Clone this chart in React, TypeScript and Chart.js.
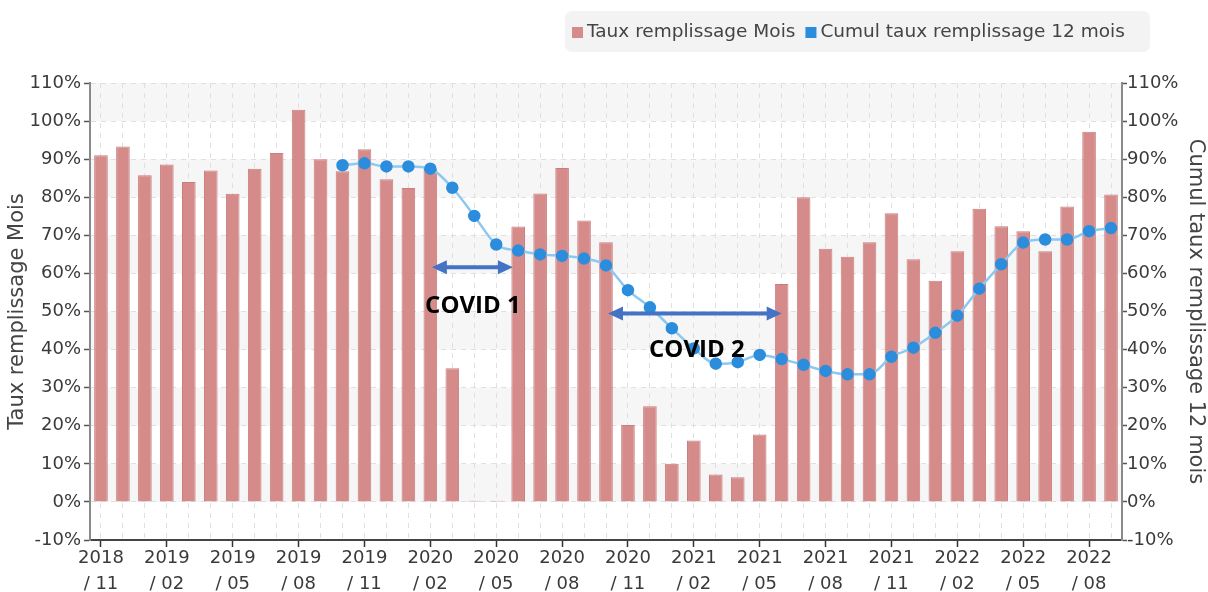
import React, { useEffect, useRef } from 'react';
import { Chart, registerables } from 'chart.js';

Chart.register(...registerables);

const MONTH_LABELS = [
  '2018 / 11', '2018 / 12',
  '2019 / 01', '2019 / 02', '2019 / 03', '2019 / 04', '2019 / 05', '2019 / 06',
  '2019 / 07', '2019 / 08', '2019 / 09', '2019 / 10', '2019 / 11', '2019 / 12',
  '2020 / 01', '2020 / 02', '2020 / 03', '2020 / 04', '2020 / 05', '2020 / 06',
  '2020 / 07', '2020 / 08', '2020 / 09', '2020 / 10', '2020 / 11', '2020 / 12',
  '2021 / 01', '2021 / 02', '2021 / 03', '2021 / 04', '2021 / 05', '2021 / 06',
  '2021 / 07', '2021 / 08', '2021 / 09', '2021 / 10', '2021 / 11', '2021 / 12',
  '2022 / 01', '2022 / 02', '2022 / 03', '2022 / 04', '2022 / 05', '2022 / 06',
  '2022 / 07', '2022 / 08', '2022 / 09',
];

// Taux remplissage Mois (%)
const MONTHLY_RATE = [
  91.0, 93.3, 85.8, 88.6, 84.0, 87.0, 80.9, 87.5, 91.6, 103.0,
  90.0, 86.8, 92.6, 84.7, 82.4, 87.4, 35.1, 0.3, 0.3, 72.3,
  81.0, 87.7, 73.9, 68.2, 20.2, 25.1, 10.0, 16.1, 7.2, 6.5,
  17.7, 57.2, 80.0, 66.5, 64.4, 68.2, 75.8, 63.7, 58.1, 65.8,
  77.0, 72.4, 71.1, 65.8, 77.6, 97.2, 80.7,
];

// Cumul taux remplissage 12 mois (%)
const CUMUL_12M = [
  null, null, null, null, null, null, null, null, null, null, null,
  88.4, 88.9, 88.1, 88.1, 87.5, 82.5, 75.1, 67.6, 66.0, 65.0,
  64.6, 63.9, 62.1, 55.6, 51.1, 45.6, 40.3, 36.3, 36.7, 38.6,
  37.5, 36.0, 34.4, 33.5, 33.5, 38.1, 40.5, 44.4, 48.9, 56.0,
  62.4, 68.1, 68.9, 68.9, 71.1, 71.9,
];

const SERIES_NAMES = ['Taux remplissage Mois', 'Cumul taux remplissage 12 mois'];
const AXIS_TICKS = { min: -10, max: 110, step: 10 };

// Annotations: [startIndex, endIndex, yValue] for arrows; [centerIndex, yValue, text] for labels
const COVID_ARROWS = [
  [15.07, 18.76, 61.6],
  [23.09, 31.0, 49.5],
];
const COVID_LABELS: [number, number, string][] = [
  [16.94, 51.4, 'COVID 1'],
  [27.14, 39.9, 'COVID 2'],
];

const BAR_FILL = '#d68b8b';
const BAR_BORDER = '#c97d7d';
const LINE_COLOR = '#8cc8f0';
const POINT_COLOR = '#2b8ddc';
const ARROW_COLOR = '#4472c4';
const TEXT_COLOR = '#3a3a3a';

const bandsPlugin = {
  id: 'bands',
  beforeDraw(chart: any) {
    const { ctx, chartArea, scales } = chart;
    const y = scales.y;
    ctx.save();
    ctx.fillStyle = '#f6f6f6';
    for (let v = 0; v < 110; v += 20) {
      const top = y.getPixelForValue(v + 10);
      const bottom = y.getPixelForValue(v);
      ctx.fillRect(chartArea.left, top, chartArea.right - chartArea.left, bottom - top);
    }
    ctx.restore();
  },
};

function drawArrow(ctx: CanvasRenderingContext2D, x1: number, x2: number, y: number) {
  const head = 15;
  const half = 7;
  ctx.save();
  ctx.strokeStyle = ARROW_COLOR;
  ctx.fillStyle = ARROW_COLOR;
  ctx.lineWidth = 4;
  ctx.beginPath();
  ctx.moveTo(x1 + head - 2, y);
  ctx.lineTo(x2 - head + 2, y);
  ctx.stroke();
  ctx.beginPath();
  ctx.moveTo(x1, y);
  ctx.lineTo(x1 + head, y - half);
  ctx.lineTo(x1 + head, y + half);
  ctx.closePath();
  ctx.fill();
  ctx.beginPath();
  ctx.moveTo(x2, y);
  ctx.lineTo(x2 - head, y - half);
  ctx.lineTo(x2 - head, y + half);
  ctx.closePath();
  ctx.fill();
  ctx.restore();
}

const annotationPlugin = {
  id: 'covidAnnotations',
  afterDatasetsDraw(chart: any) {
    const { ctx, scales } = chart;
    const x = scales.x;
    const y = scales.y;
    COVID_ARROWS.forEach(([a, b, v]) => {
      drawArrow(ctx, x.getPixelForValue(a), x.getPixelForValue(b), y.getPixelForValue(v));
    });
    ctx.save();
    ctx.fillStyle = '#000';
    ctx.font = 'bold 24px "Open Sans"';
    ctx.textAlign = 'center';
    ctx.textBaseline = 'middle';
    COVID_LABELS.forEach(([i, v, t]) => {
      ctx.fillText(t, x.getPixelForValue(i), y.getPixelForValue(v));
    });
    ctx.restore();
  },
};

const legendPlugin = {
  id: 'customLegend',
  afterDraw(chart: any) {
    const { ctx } = chart;
    ctx.save();
    ctx.fillStyle = '#f3f3f3';
    ctx.beginPath();
    (ctx as any).roundRect(565, 11, 585, 41, 7);
    ctx.fill();
    ctx.font = '18.5px "DejaVu Sans"';
    ctx.textBaseline = 'alphabetic';
    ctx.textAlign = 'left';
    let cx = 572;
    const colors = [BAR_FILL, POINT_COLOR];
    SERIES_NAMES.forEach((name, i) => {
      ctx.fillStyle = colors[i];
      ctx.fillRect(cx, 27, 11, 11);
      cx += 15;
      ctx.fillStyle = '#444';
      ctx.fillText(name, cx, 37);
      cx += ctx.measureText(name).width + 10;
    });
    ctx.restore();
  },
};

export default function App() {
  const canvasRef = useRef<HTMLCanvasElement | null>(null);

  useEffect(() => {
    if (!canvasRef.current) return;
    Chart.defaults.font.family = '"DejaVu Sans"';
    const tickFont = { size: 18, family: '"DejaVu Sans"' };
    const chart = new Chart(canvasRef.current, {
      type: 'bar',
      data: {
        labels: MONTH_LABELS,
        datasets: [
          {
            type: 'line',
            label: SERIES_NAMES[1],
            data: CUMUL_12M as any,
            yAxisID: 'y1',
            borderColor: LINE_COLOR,
            borderWidth: 2.5,
            pointBackgroundColor: POINT_COLOR,
            pointBorderColor: POINT_COLOR,
            pointRadius: 5,
            cubicInterpolationMode: 'monotone',
            spanGaps: false,
            order: 0,
          } as any,
          {
            type: 'bar',
            label: SERIES_NAMES[0],
            data: MONTHLY_RATE,
            yAxisID: 'y',
            backgroundColor: BAR_FILL,
            borderColor: BAR_BORDER,
            borderWidth: 1,
            barPercentage: 0.62,
            categoryPercentage: 1,
            order: 1,
          },
        ],
      },
      options: {
        animation: false,
        responsive: false,
        maintainAspectRatio: false,
        devicePixelRatio: 1,
        layout: { padding: { top: 83, left: 0, right: 0, bottom: 0 } },
        plugins: {
          legend: { display: false },
          tooltip: { enabled: false },
        },
        scales: {
          x: {
            type: 'category',
            offset: true,
            grid: {
              offset: false,
              color: '#e0e0e0',
              tickColor: (c: any) => (c.index % 3 === 0 ? '#333' : 'rgba(0,0,0,0)'),
              tickLength: 7,
              tickWidth: 1.5,
            },
            border: { color: '#444', width: 2, dash: [5, 5] },
            ticks: {
              autoSkip: false,
              maxRotation: 0,
              minRotation: 0,
              color: TEXT_COLOR,
              font: { ...tickFont, lineHeight: 1.42 },
              padding: -1,
              callback: function (this: any, value: any, index: number) {
                if (index % 3 !== 0) return '';
                const l = MONTH_LABELS[index];
                return [l.slice(0, 4), l.slice(5)];
              },
            },
            afterFit: (s: any) => {
              s.height = 52;
            },
          },
          y: {
            type: 'linear',
            position: 'left',
            min: AXIS_TICKS.min,
            max: AXIS_TICKS.max,
            ticks: {
              stepSize: AXIS_TICKS.step,
              color: TEXT_COLOR,
              font: tickFont,
              padding: 3,
              callback: (v: any) => `${v}%`,
            },
            grid: { color: '#e0e0e0', tickColor: '#555', tickLength: 6, tickWidth: 1.5 },
            border: { color: '#8a8a8a', width: 2, dash: [5, 5] },
            title: {
              display: true,
              text: SERIES_NAMES[0],
              color: '#444',
              font: { size: 21, family: '"DejaVu Sans"' },
              padding: { top: 5, bottom: 0 },
            },
            afterFit: (s: any) => {
              s.width = 90;
            },
          },
          y1: {
            type: 'linear',
            position: 'right',
            min: AXIS_TICKS.min,
            max: AXIS_TICKS.max,
            ticks: {
              stepSize: AXIS_TICKS.step,
              color: TEXT_COLOR,
              font: tickFont,
              padding: 0,
              callback: (v: any) => `${v}%`,
            },
            grid: { drawOnChartArea: false, tickColor: '#555', tickLength: 5, tickWidth: 1.5 },
            border: { color: '#8a8a8a', width: 2 },
            title: {
              display: true,
              text: SERIES_NAMES[1],
              color: '#444',
              font: { size: 21, family: '"DejaVu Sans"' },
              padding: { top: 0, bottom: 0 },
            },
            afterFit: (s: any) => {
              s.width = 86;
            },
          },
        },
      },
      plugins: [bandsPlugin, annotationPlugin, legendPlugin],
    });
    return () => chart.destroy();
  }, []);

  return (
    <div style={{ position: 'absolute', left: 0, top: 0, width: 1208, height: 592 }}>
      <canvas ref={canvasRef} width={1208} height={592} style={{ width: 1208, height: 592 }} />
    </div>
  );
}
